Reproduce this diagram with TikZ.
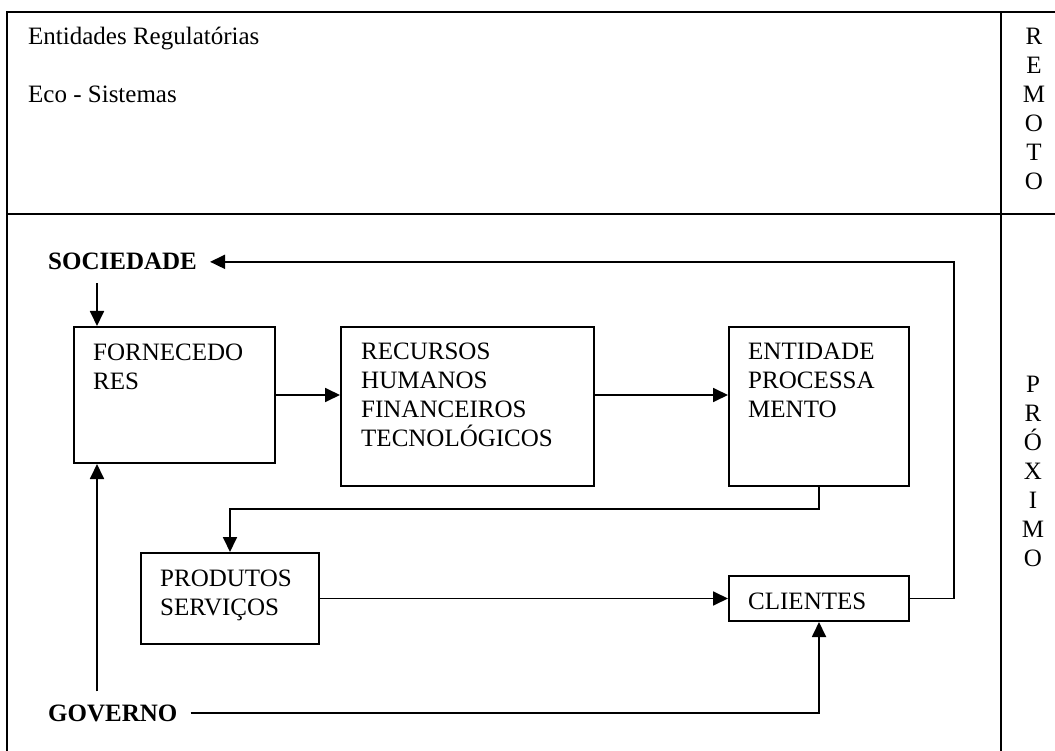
\documentclass[tikz,border=0pt]{standalone}
\usepackage{fontspec}
\setmainfont{Liberation Serif}
\usetikzlibrary{arrows.meta}
\begin{document}
\begin{tikzpicture}[x=1pt,y=-1pt,
  txt/.style={inner sep=0pt, font=\fontsize{25}{29}\selectfont, align=left},
  lbl/.style={inner xsep=13pt, inner ysep=13pt, font=\fontsize{25}{29}\selectfont\bfseries},
  letter/.style={inner sep=0pt, anchor=base, font=\fontsize{25}{29}\selectfont},
  box/.style={draw, line width=2pt, inner sep=0pt},
  frame/.style={line width=2.2pt},
  arr/.style={line width=1.8pt, -{Triangle[length=15pt,width=14pt]}},
  link/.style={line width=1.8pt}]
\useasboundingbox (0,0) rectangle (1055,751);

% table frame
\draw[frame] (1062,12) -- (7,12) -- (7,760);
\draw[frame] (7,214) -- (1062,214);
\draw[frame] (1001,12) -- (1001,760);

% upper row texts
\node[txt, anchor=base west] (regul) at (28,45) {Entidades Regulatórias};
\node[txt, anchor=base west] (eco) at (28,103) {Eco - Sistemas};
\foreach \c [count=\i] in {R,E,M,O,T,O}
  \node[letter] (rem\i) at (1034,{45+29*(\i-1)}) {\c};
\foreach \c [count=\i] in {P,R,Ó,X,I,M,O}
  \node[letter] (prox\i) at (1033,{392+29*(\i-1)}) {\c};

% boxes
\node[box, minimum width=201pt, minimum height=136pt] (forn) at (174.5,395) {};
\node[box, minimum width=253pt, minimum height=159pt] (rec) at (467.5,406.5) {};
\node[box, minimum width=180pt, minimum height=159pt] (ent) at (819,406.5) {};
\node[box, minimum width=178pt, minimum height=91pt] (prod) at (230,598.5) {};
\node[box, minimum width=180pt, minimum height=45pt] (cli) at (819,598.5) {};

% box texts
\node[txt, anchor=north west] (forntxt) at (93,344) {FORNECEDO\\RES};
\node[txt, anchor=north west] (rectxt) at (361,343) {RECURSOS\\HUMANOS\\FINANCEIROS\\TECNOLÓGICOS};
\node[txt, anchor=north west] (enttxt) at (748,343) {ENTIDADE\\PROCESSA\\MENTO};
\node[txt, anchor=north west] (prodtxt) at (160,570) {PRODUTOS\\SERVIÇOS};
\node[txt, anchor=base west] (clitxt) at (748,609) {CLIENTES};

% outside actors
\node[lbl, anchor=base west] (soc) at (35,270) {SOCIEDADE};
\node[lbl, anchor=base west] (gov) at (35,721) {GOVERNO};

% routing columns
\coordinate (fx) at (97,0);
\coordinate (loopx) at (954,0);

% connectors
\draw[arr] (soc.south -| fx) -- (forn.north -| fx);
\draw[arr] (gov.north -| fx) -- (forn.south -| fx);
\draw[arr] (forn.east) -- (forn.east -| rec.west);
\draw[arr] (forn.east -| rec.east) -- (forn.east -| ent.west);
\draw[arr] (ent.south) -- ++(0,22) -| (prod.north);
\draw[arr] (prod.east) -- (cli.west);
\draw[arr] (gov.east) -| (cli.south);
\draw[arr] (cli.east) -- (cli.east -| loopx) -- (soc.east -| loopx) -- (soc.east);
\end{tikzpicture}
\end{document}
